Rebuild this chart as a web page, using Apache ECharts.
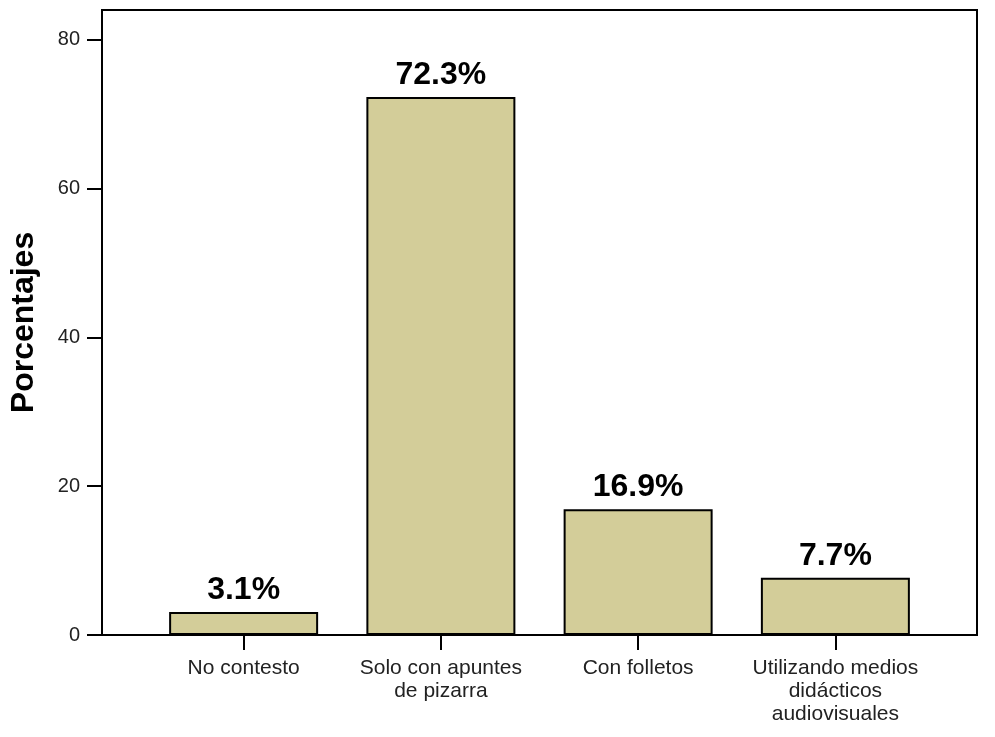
<!DOCTYPE html>
<html>
<head>
<meta charset="utf-8">
<script src="https://cdn.jsdelivr.net/npm/echarts@6/dist/echarts.min.js"></script>
<style>
  html, body { margin: 0; padding: 0; background: #fff; }
  #main { width: 995px; height: 737px; }
</style>
</head>
<body>
<div id="main"></div>
<script>
// categorias y porcentajes
var categories = ['No contesto', 'Solo con apuntes\nde pizarra', 'Con folletos', 'Utilizando medios\ndidácticos\naudiovisuales'];
var porcentajes = [3.1, 72.3, 16.9, 7.7];
var yTicks = [0, 20, 40, 60, 80];

var chart = echarts.init(document.getElementById('main'));
var font = 'Liberation Sans, Arial, sans-serif';

var option = {
  backgroundColor: '#fff',
  animation: false,
  grid: [
    { left: 100, right: 18, top: 10, bottom: 102, show: true, borderColor: '#000', borderWidth: 2 },
    { left: 145, width: 789, top: 10, bottom: 102 }
  ],
  xAxis: [
    {
      gridIndex: 0, type: 'value', min: 0, max: 1,
      axisLine: { lineStyle: { color: '#000', width: 2 } },
      axisTick: { show: false }, axisLabel: { show: false }, splitLine: { show: false }
    },
    {
      gridIndex: 1, type: 'category', data: categories,
      axisLine: { show: false },
      axisTick: { show: true, alignWithLabel: true, length: 15, lineStyle: { color: '#000', width: 2 } },
      axisLabel: { interval: 0, margin: 22, color: '#222', fontSize: 21, fontFamily: font, lineHeight: 23 }
    }
  ],
  yAxis: [
    {
      gridIndex: 0, type: 'value', min: 0, max: 84, interval: 20,
      name: 'Porcentajes', nameLocation: 'middle', nameGap: 62,
      nameTextStyle: { fontSize: 32, fontWeight: 'bold', color: '#000', fontFamily: font },
      axisLine: { show: true, lineStyle: { color: '#000', width: 2 } },
      axisTick: { show: true, length: 15, customValues: yTicks, lineStyle: { color: '#000', width: 2 } },
      axisLabel: { margin: 22, color: '#222', fontSize: 20, fontFamily: font, customValues: yTicks },
      splitLine: { show: false }
    },
    {
      gridIndex: 1, type: 'value', min: 0, max: 84, show: false
    }
  ],
  series: [{
    type: 'bar',
    xAxisIndex: 1,
    yAxisIndex: 1,
    data: porcentajes,
    barWidth: 149,
    itemStyle: { color: '#d3cd99', borderColor: '#000', borderWidth: 2 },
    label: {
      show: true, position: 'top', distance: 6,
      formatter: '{c}%',
      fontSize: 32, fontWeight: 'bold', color: '#000', fontFamily: font
    }
  }]
};
chart.setOption(option);
</script>
</body>
</html>
